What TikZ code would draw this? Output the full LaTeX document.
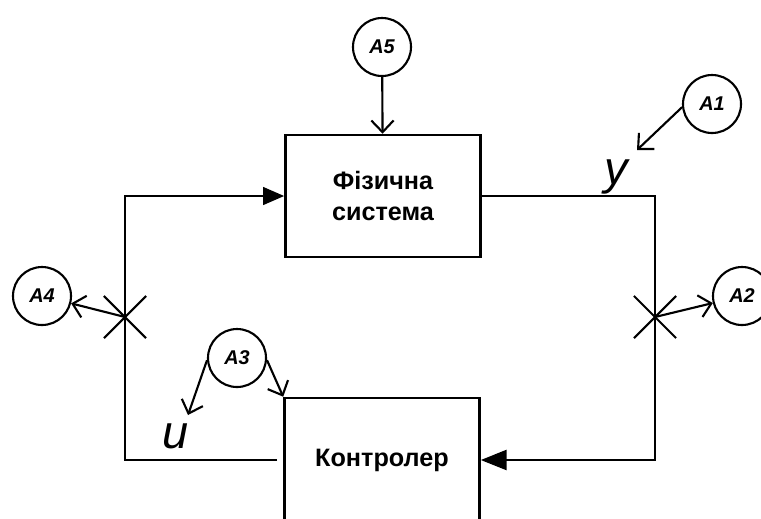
\documentclass[tikz,border=0pt]{standalone}
\usepackage{fontspec}
\setmainfont{Liberation Sans}
\usetikzlibrary{arrows.meta, shapes.misc, positioning}

\tikzset{
  block/.style={draw, line width=2.2pt, minimum width=195*0.03cm, font=\bfseries\fontsize{21.5}{26}\selectfont, align=center},
  attack/.style={draw, circle, line width=1.8pt, minimum size=58*0.03cm, inner sep=0pt, font=\bfseries\itshape\fontsize{17}{20}\selectfont},
  tap/.style={draw, cross out, line width=1.8pt, minimum size=40*0.03cm, inner sep=0pt},
  sig/.style={font=\itshape\fontsize{40}{44}\selectfont},
  barb/.style={-{Straight Barb[length=10pt, width=19pt, line width=1.8pt]}},
}

\begin{document}
\begin{tikzpicture}[x=0.03cm, y=-0.03cm, line width=2.2pt]

   \clip (0,0) rectangle (761,518);

   % the two blocks
   \node[block, minimum height=122*0.03cm] (sys) at (383,196) {Фізична\\система};
   \node[block, minimum height=124*0.03cm] (ctrl) at (382,460) {Контролер};

   % attack points
   \node[attack] (a1) at (712,104) {A1};
   \node[attack] (a2) at (742,296) {A2};
   \node[attack] (a3) at (237,358) {A3};
   \node[attack] (a4) at (42,296) {A4};
   \node[attack] (a5) at (382,47) {A5};

   % loop corners and taps
   \coordinate (lt) at (125,196);
   \coordinate (lb) at (125,460);
   \coordinate (rt) at (655,196);
   \coordinate (rb) at (655,460);
   \coordinate (ugap) at (277,460);
   \node[tap] (xl) at (125,317) {};
   \node[tap] (xr) at (655,317) {};

   % signals
   \node[sig] (y) at (616,177) {y};
   \node[sig] (u) at (176,436) {u};
   \coordinate (ytip) at (637,150);
   \coordinate (utip) at (188,415);

   % feedback loop
   \draw[-{Triangle[length=18pt, width=15pt]}] (ugap) -- (lb) -- (lt) -- (sys.west);
   \draw[-{Triangle[length=22pt, width=17pt]}] (sys.east) -- (rt) -- (rb) -- (ctrl.east);

   \path[barb, line width=1.8pt]
    (a5) edge (sys)
    (a1.186) edge (ytip)
    (xr.center) edge (a2)
    (xl.center) edge (a4)
    (a3.184) edge (utip)
    (a3.356) edge (ctrl.north west);

\end{tikzpicture}
\end{document}
